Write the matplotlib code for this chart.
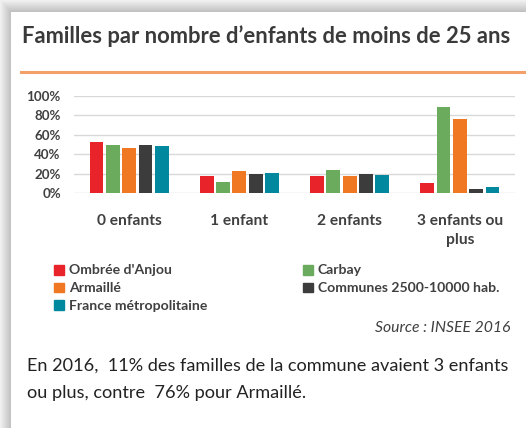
import numpy as np
import matplotlib.pyplot as plt
from matplotlib.patches import Patch

categories = ["0 enfants", "1 enfant", "2 enfants", "3 enfants ou\nplus"]
series_names = ["Ombrée d'Anjou", "Carbay", "Armaillé",
                "Communes 2500-10000 hab.", "France métropolitaine"]
ombree = [53, 18, 18, 11]
carbay = [50, 12, 24, 88]
armaille = [47, 23, 18, 76]
communes = [50, 20, 20, 5]
france = [49, 21, 19, 7]
colors = ["#E8232A", "#6AAB5E", "#F07823", "#3C3C3C", "#00889E"]

W, H = 526, 428
FONT = "Lato"
TXT = "#404040"

fig = plt.figure(figsize=(W / 100, H / 100), dpi=100)

# card shadow on left and top
bg = fig.add_axes([0, 0, 1, 1])
yy, xx = np.mgrid[0:H, 0:W]
dx = np.clip((11 - xx) / 11, 0, 1)
dy = np.clip((12 - yy) / 12, 0, 1)
d = np.maximum(dx, dy)
shade = np.where(d > 0, 0.74 + 0.2 * d, 1.0)
bg.imshow(shade, cmap="gray", vmin=0, vmax=1, extent=[0, W, H, 0], aspect="auto")
bg.set_xlim(0, W)
bg.set_ylim(H, 0)
bg.axis("off")
bg.plot([21, W], [72, 72], color="#F4A06A", lw=2.2)

fig.text(22 / W, 1 - 36 / H, "Familles par nombre d\u2019enfants de moins de 25 ans",
         fontsize=15.8, fontweight="bold", color="#3A3A3A", family=FONT, va="center")

ax = fig.add_axes([74 / W, 1 - 193.5 / H, 441 / W, 97.8 / H])
values = [ombree, carbay, armaille, communes, france]
x = np.arange(len(categories))
step = 0.148
for i, (vals, c) in enumerate(zip(values, colors)):
    ax.bar(x + (i - 2) * step, np.array(vals) / 100, width=0.125, color=c,
           label=series_names[i], zorder=3)

ax.set_xlim(-0.5, 3.5)
ax.set_ylim(0, 1)
ax.set_yticks(np.arange(0, 1.01, 0.2))
ax.set_yticklabels([f"{int(v * 100)}%" for v in np.arange(0, 1.01, 0.2)],
                   fontsize=9.6, fontweight="bold", color=TXT, family=FONT)
ax.set_xticks(x)
ax.set_xticklabels(categories, fontsize=11.2, fontweight="bold", color=TXT,
                   family=FONT, linespacing=1.4)
ax.tick_params(length=0, axis="y", pad=9.5)
ax.tick_params(length=0, axis="x", pad=15)
ax.grid(axis="y", color="#D9D9D9", lw=1, zorder=0)
for s in ax.spines.values():
    s.set_visible(False)

handles = [Patch(color=c) for c in colors]
leg_kw = dict(loc="upper left", frameon=False, handlelength=0.7, handleheight=0.7,
              handletextpad=0.35, labelspacing=0.42, borderpad=0, borderaxespad=0,
              prop={"family": FONT, "size": 10.1, "weight": "bold"}, labelcolor=TXT)
fig.legend([handles[0], handles[2], handles[4]],
           [series_names[0], series_names[2], series_names[4]],
           bbox_to_anchor=(54 / W, 1 - 264.5 / H), **leg_kw)
fig.legend([handles[1], handles[3]], [series_names[1], series_names[3]],
           bbox_to_anchor=(303 / W, 1 - 264.5 / H), **leg_kw)

fig.text(510 / W, 1 - 328 / H, "Source : INSEE 2016", fontsize=11.3, style="italic",
         color=TXT, family=FONT, ha="right", va="center")
fig.text(27 / W, 1 - 366 / H, "En 2016,  11% des familles de la commune avaient 3 enfants",
         fontsize=13.1, color="#222222", family=FONT, va="center")
fig.text(27 / W, 1 - 393 / H, "ou plus, contre  76% pour Armaillé.",
         fontsize=13.1, color="#222222", family=FONT, va="center")

fig.savefig("out.png", dpi=100)
